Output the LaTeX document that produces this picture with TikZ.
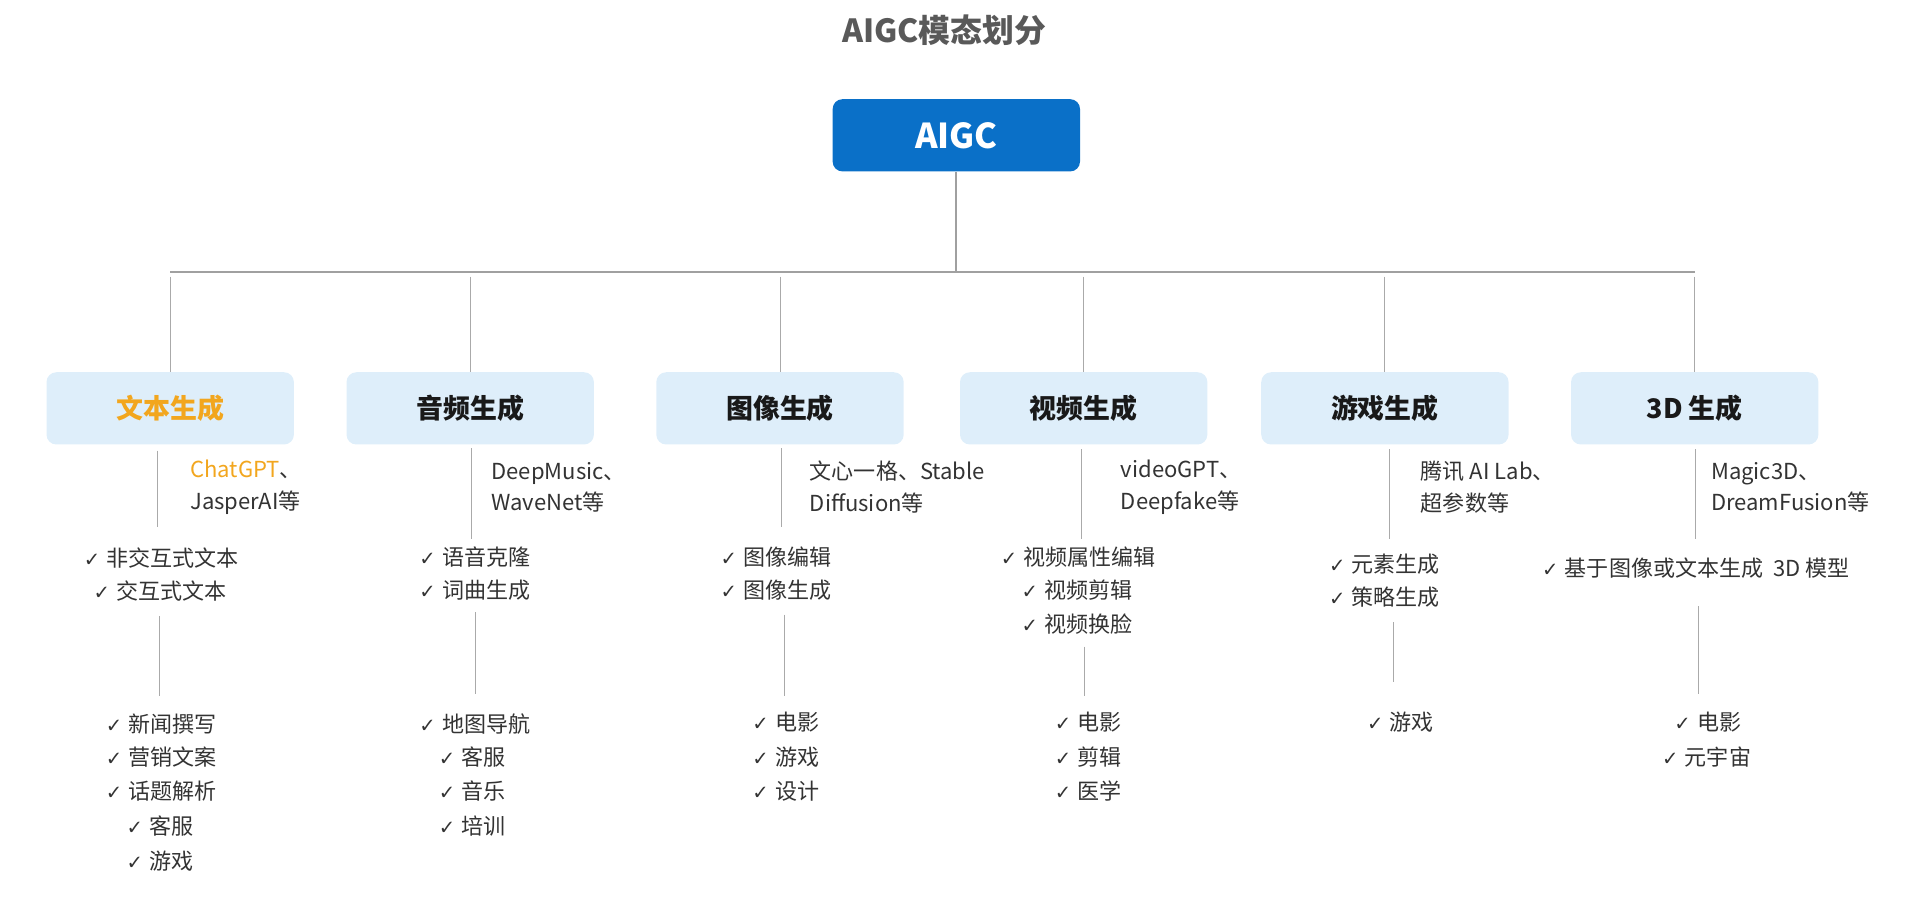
\documentclass[tikz,border=0pt]{standalone}
\usepackage{fontspec}
\setmainfont{Noto Sans CJK SC}
\newfontfamily\ckfont{DejaVu Sans}
\definecolor{rootblue}{RGB}{10,112,200}
\definecolor{catfill}{RGB}{222,238,250}
\definecolor{orangetxt}{RGB}{242,166,30}
\definecolor{bodytxt}{RGB}{51,51,51}
\definecolor{titletxt}{RGB}{89,89,89}
\definecolor{linegray}{RGB}{170,170,170}
\definecolor{bargray}{RGB}{160,160,160}
\newcommand{\ck}{\makebox[9.3pt][l]{\ckfont\fontsize{8}{9}\selectfont ✓}}
\begin{document}
\begin{tikzpicture}[x=0.5pt,y=-0.5pt,
  titlestyle/.style={font=\bfseries\fontsize{13}{15}\selectfont, text=titletxt, inner sep=0pt},
  rootbox/.style={draw=none, fill=rootblue, rounded corners=4pt, minimum width=101pt, minimum height=29.5pt, text=white, font=\bfseries\fontsize{14}{16}\selectfont},
  catbox/.style={draw=none, fill=catfill, rounded corners=4pt, minimum width=101pt, minimum height=29.5pt, text=black!90, font=\bfseries\fontsize{11}{13}\selectfont},
  desc/.style={anchor=west, inner sep=0pt, align=left, text=bodytxt, font=\fontsize{9}{13}\selectfont},
  item/.style={anchor=west, inner sep=0pt, text=bodytxt, font=\fontsize{9}{11}\selectfont},
  thinline/.style={draw=linegray, line width=0.4pt},
  barline/.style={draw=bargray, line width=0.9pt}
]
\useasboundingbox (0,0) rectangle (1568,737);

\node[titlestyle] (title) at (771,25) {AIGC模态划分};
\node[rootbox] (aigc) at (781,110.5) {AIGC};

\node[catbox, text=orangetxt] (c1) at (139,333.5) {文本生成};
\node[catbox] (c2) at (384,333.5) {音频生成};
\node[catbox] (c3) at (637,333.5) {图像生成};
\node[catbox] (c4) at (885,333.5) {视频生成};
\node[catbox] (c5) at (1131,333.5) {游戏生成};
\node[catbox] (c6) at (1384,333.5) {3D 生成};

% tree connectors
\coordinate (bar) at (781,222);
\coordinate (barL) at (c1.north |- bar);
\coordinate (barR) at (c6.north |- bar);
\draw[barline] (aigc.south) -- (bar);
\draw[barline] (barL) -- (barR);
\foreach \c in {c1,c2,c3,c4,c5,c6}{
  \coordinate (\c top) at ([yshift=-2pt]\c.north |- bar);
  \draw[thinline] (\c top) -- (\c.north);
}

% column 1
\coordinate (l1a) at (129,368); \coordinate (l1b) at (129,430);
\draw[thinline] (l1a) -- (l1b);
\node[desc] (d1) at (155,398) {\textcolor{orangetxt}{ChatGPT}、\\JasperAI等};
\node[item] (i11) at (68,456) {\ck 非交互式文本};
\node[item] (i12) at (76,483) {\ck 交互式文本};
\coordinate (l1c) at (130,503); \coordinate (l1d) at (130,568);
\draw[thinline] (l1c) -- (l1d);
\node[item] (i13) at (86,591) {\ck 新闻撰写};
\node[item] (i14) at (86,618) {\ck 营销文案};
\node[item] (i15) at (86,646) {\ck 话题解析};
\node[item] (i16) at (103,675) {\ck 客服};
\node[item] (i17) at (103,703) {\ck 游戏};

% column 2
\coordinate (l2a) at (385,366); \coordinate (l2b) at (385,440);
\draw[thinline] (l2a) -- (l2b);
\node[desc] (d2) at (401,398) {DeepMusic、\\WaveNet等};
\node[item] (i21) at (342,455) {\ck 语音克隆};
\node[item] (i22) at (342,482) {\ck 词曲生成};
\coordinate (l2c) at (388,500); \coordinate (l2d) at (388,567);
\draw[thinline] (l2c) -- (l2d);
\node[item] (i23) at (342,591) {\ck 地图导航};
\node[item] (i24) at (358,618) {\ck 客服};
\node[item] (i25) at (358,646) {\ck 音乐};
\node[item] (i26) at (358,675) {\ck 培训};

% column 3
\coordinate (l3a) at (638,366); \coordinate (l3b) at (638,430);
\draw[thinline] (l3a) -- (l3b);
\node[desc] (d3) at (661,398) {文心一格、Stable\\Diffusion等};
\node[item] (i31) at (588,455) {\ck 图像编辑};
\node[item] (i32) at (588,482) {\ck 图像生成};
\coordinate (l3c) at (641,502); \coordinate (l3d) at (641,568);
\draw[thinline] (l3c) -- (l3d);
\node[item] (i33) at (614,590) {\ck 电影};
\node[item] (i34) at (614,618) {\ck 游戏};
\node[item] (i35) at (614,646) {\ck 设计};

% column 4
\coordinate (l4a) at (883,367); \coordinate (l4b) at (883,440);
\draw[thinline] (l4a) -- (l4b);
\node[desc] (d4) at (915,398) {videoGPT、\\Deepfake等};
\node[item] (i41) at (817,455) {\ck 视频属性编辑};
\node[item] (i42) at (834,482) {\ck 视频剪辑};
\node[item] (i43) at (834,510) {\ck 视频换脸};
\coordinate (l4c) at (886,528); \coordinate (l4d) at (886,568);
\draw[thinline] (l4c) -- (l4d);
\node[item] (i44) at (861,590) {\ck 电影};
\node[item] (i45) at (861,618) {\ck 剪辑};
\node[item] (i46) at (861,646) {\ck 医学};

% column 5
\coordinate (l5a) at (1135,367); \coordinate (l5b) at (1135,440);
\draw[thinline] (l5a) -- (l5b);
\node[desc] (d5) at (1160,398) {腾讯 AI Lab、\\超参数等};
\node[item] (i51) at (1085,461) {\ck 元素生成};
\node[item] (i52) at (1085,488) {\ck 策略生成};
\coordinate (l5c) at (1138,508); \coordinate (l5d) at (1138,557);
\draw[thinline] (l5c) -- (l5d);
\node[item] (i53) at (1116,590) {\ck 游戏};

% column 6
\coordinate (l6a) at (1385,367); \coordinate (l6b) at (1385,440);
\draw[thinline] (l6a) -- (l6b);
\node[desc] (d6) at (1397,398) {Magic3D、\\DreamFusion等};
\node[item] (i61) at (1259,464) {\ck 基于图像或文本生成\hspace{4pt}3D 模型};
\coordinate (l6c) at (1387,495); \coordinate (l6d) at (1387,567);
\draw[thinline] (l6c) -- (l6d);
\node[item] (i62) at (1367,590) {\ck 电影};
\node[item] (i63) at (1357,618) {\ck 元宇宙};
\end{tikzpicture}
\end{document}
